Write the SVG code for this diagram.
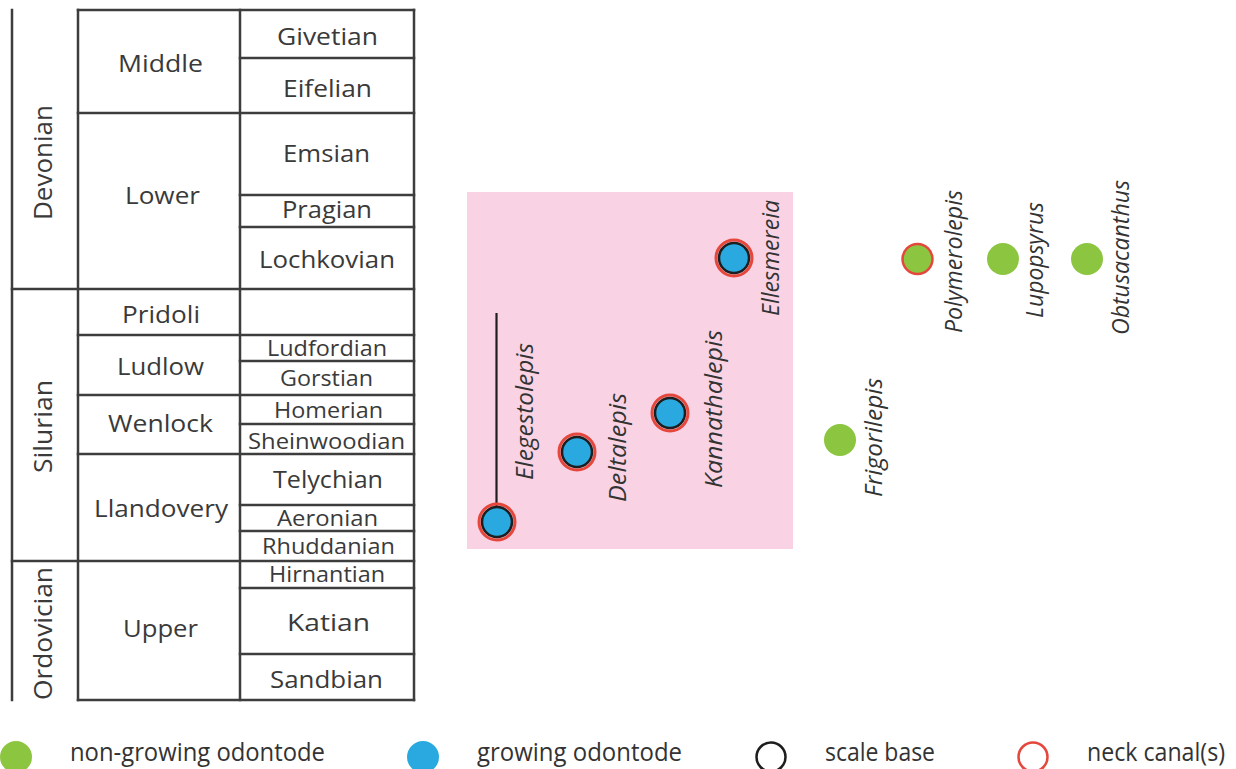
<svg xmlns="http://www.w3.org/2000/svg" width="1236" height="769" viewBox="0 0 1236 769">
<style>
.grid line{stroke:#3d3d3d;stroke-width:2.5;stroke-linecap:square}
.t{font-family:"Open Sans","Noto Sans","Liberation Sans",sans-serif;font-size:24px;fill:#3a3a3a;text-anchor:middle}
.s{font-size:21px}
.p{font-family:"Open Sans","Noto Sans","Liberation Sans",sans-serif;font-size:26px;fill:#3a3a3a}
.sp{font-family:"Open Sans","Noto Sans","Liberation Sans",sans-serif;font-style:italic;font-size:24px;fill:#333}
.lg{font-family:"Open Sans","Noto Sans","Liberation Sans",sans-serif;font-size:25px;fill:#333}
.grow{fill:#29a9e0;stroke:#1e1e1e;stroke-width:2.5}
.neck{fill:none;stroke:#e5473c;stroke-width:3}
.ng{fill:#8cc540}
</style>
<rect width="1236" height="769" fill="#ffffff"/>

<!-- time scale table -->
<g id="timescale">
<g class="grid">
<line x1="12" y1="10" x2="12" y2="700"/>
<line x1="78" y1="10" x2="78" y2="700"/>
<line x1="240" y1="10" x2="240" y2="700"/>
<line x1="414" y1="10" x2="414" y2="700"/>
<line x1="78" y1="10" x2="414" y2="10"/>
<line x1="240" y1="58" x2="414" y2="58"/>
<line x1="78" y1="113" x2="414" y2="113"/>
<line x1="240" y1="195" x2="414" y2="195"/>
<line x1="240" y1="227" x2="414" y2="227"/>
<line x1="12" y1="289" x2="414" y2="289"/>
<line x1="78" y1="335" x2="414" y2="335"/>
<line x1="240" y1="361" x2="414" y2="361"/>
<line x1="78" y1="395" x2="414" y2="395"/>
<line x1="240" y1="424" x2="414" y2="424"/>
<line x1="78" y1="454" x2="414" y2="454"/>
<line x1="240" y1="505" x2="414" y2="505"/>
<line x1="240" y1="531" x2="414" y2="531"/>
<line x1="12" y1="561" x2="414" y2="561"/>
<line x1="240" y1="588" x2="414" y2="588"/>
<line x1="240" y1="654" x2="414" y2="654"/>
<line x1="78" y1="700" x2="414" y2="700"/>
</g>
<text class="p" transform="translate(52,220) rotate(-90)" textLength="115" lengthAdjust="spacingAndGlyphs">Devonian</text>
<text class="p" transform="translate(52,473) rotate(-90)" textLength="93" lengthAdjust="spacingAndGlyphs">Silurian</text>
<text class="p" transform="translate(52,700) rotate(-90)" textLength="133" lengthAdjust="spacingAndGlyphs">Ordovician</text>

<text class="t" x="160.5" y="72" textLength="85" lengthAdjust="spacingAndGlyphs">Middle</text>
<text class="t" x="162.5" y="204" textLength="75" lengthAdjust="spacingAndGlyphs">Lower</text>
<text class="t" x="161" y="323" textLength="78" lengthAdjust="spacingAndGlyphs">Pridoli</text>
<text class="t" x="160.5" y="375" textLength="87" lengthAdjust="spacingAndGlyphs">Ludlow</text>
<text class="t" x="160.5" y="432" textLength="105" lengthAdjust="spacingAndGlyphs">Wenlock</text>
<text class="t" x="161" y="517" textLength="134" lengthAdjust="spacingAndGlyphs">Llandovery</text>
<text class="t" x="160.5" y="637" textLength="75" lengthAdjust="spacingAndGlyphs">Upper</text>

<text class="t" x="327.5" y="45" textLength="101" lengthAdjust="spacingAndGlyphs">Givetian</text>
<text class="t" x="327.5" y="97" textLength="89" lengthAdjust="spacingAndGlyphs">Eifelian</text>
<text class="t" x="326.5" y="162" textLength="87" lengthAdjust="spacingAndGlyphs">Emsian</text>
<text class="t" x="327" y="218" textLength="90" lengthAdjust="spacingAndGlyphs">Pragian</text>
<text class="t" x="327" y="268" textLength="136" lengthAdjust="spacingAndGlyphs">Lochkovian</text>
<text class="t s" x="327" y="356" textLength="120" lengthAdjust="spacingAndGlyphs">Ludfordian</text>
<text class="t s" x="326.5" y="386" textLength="93" lengthAdjust="spacingAndGlyphs">Gorstian</text>
<text class="t s" x="328.5" y="418" textLength="109" lengthAdjust="spacingAndGlyphs">Homerian</text>
<text class="t s" x="326.5" y="449" textLength="157" lengthAdjust="spacingAndGlyphs">Sheinwoodian</text>
<text class="t" x="328" y="488" textLength="110" lengthAdjust="spacingAndGlyphs">Telychian</text>
<text class="t s" x="327.5" y="526" textLength="101" lengthAdjust="spacingAndGlyphs">Aeronian</text>
<text class="t s" x="328.5" y="554" textLength="133" lengthAdjust="spacingAndGlyphs">Rhuddanian</text>
<text class="t s" x="327" y="582" textLength="116" lengthAdjust="spacingAndGlyphs">Hirnantian</text>
<text class="t" x="328.5" y="631" textLength="83" lengthAdjust="spacingAndGlyphs">Katian</text>
<text class="t" x="326.5" y="688" textLength="113" lengthAdjust="spacingAndGlyphs">Sandbian</text>
</g>

<!-- highlighted region -->
<rect id="highlight" x="467" y="192" width="326" height="357" fill="#f9d3e4"/>

<!-- connectors -->
<g id="connectors">
<line x1="496.5" y1="313" x2="496.5" y2="506" stroke="#1e1e1e" stroke-width="2.2"/>
</g>

<g id="elegestolepis">
<circle cx="497" cy="522" r="18" class="neck"/>
<circle cx="497" cy="522" r="15" class="grow"/>
<text class="sp" transform="translate(533,480) rotate(-90)" textLength="137" lengthAdjust="spacingAndGlyphs">Elegestolepis</text>
</g>
<g id="deltalepis">
<circle cx="577" cy="452" r="18" class="neck"/>
<circle cx="577" cy="452" r="15" class="grow"/>
<text class="sp" transform="translate(626,502) rotate(-90)" textLength="109" lengthAdjust="spacingAndGlyphs">Deltalepis</text>
</g>
<g id="kannathalepis">
<circle cx="670" cy="413" r="18" class="neck"/>
<circle cx="670" cy="413" r="15" class="grow"/>
<text class="sp" transform="translate(722,488) rotate(-90)" textLength="158" lengthAdjust="spacingAndGlyphs">Kannathalepis</text>
</g>
<g id="ellesmereia">
<circle cx="734" cy="258" r="18" class="neck"/>
<circle cx="734" cy="258" r="15" class="grow"/>
<text class="sp" transform="translate(779,316) rotate(-90)" textLength="116" lengthAdjust="spacingAndGlyphs">Ellesmereia</text>
</g>
<g id="frigorilepis">
<circle cx="840" cy="440" r="16" class="ng"/>
<text class="sp" transform="translate(882,497) rotate(-90)" textLength="119" lengthAdjust="spacingAndGlyphs">Frigorilepis</text>
</g>
<g id="polymerolepis">
<circle cx="917.5" cy="259" r="15" class="ng" stroke="#e5473c" stroke-width="2.5"/>
<text class="sp" transform="translate(962,333) rotate(-90)" textLength="143" lengthAdjust="spacingAndGlyphs">Polymerolepis</text>
</g>
<g id="lupopsyrus">
<circle cx="1003" cy="259" r="16" class="ng"/>
<text class="sp" transform="translate(1043,318) rotate(-90)" textLength="116" lengthAdjust="spacingAndGlyphs">Lupopsyrus</text>
</g>
<g id="obtusacanthus">
<circle cx="1087" cy="259" r="16" class="ng"/>
<text class="sp" transform="translate(1129,335) rotate(-90)" textLength="155" lengthAdjust="spacingAndGlyphs">Obtusacanthus</text>
</g>

<!-- legend -->
<g id="legend">
<circle cx="16" cy="757" r="16" class="ng"/>
<text class="lg" x="70" y="761" textLength="255" lengthAdjust="spacingAndGlyphs">non-growing odontode</text>
<circle cx="423" cy="757" r="16" fill="#29a9e0"/>
<text class="lg" x="477" y="761" textLength="205" lengthAdjust="spacingAndGlyphs">growing odontode</text>
<circle cx="771" cy="757" r="14.5" fill="none" stroke="#1e1e1e" stroke-width="2.5"/>
<text class="lg" x="825" y="761" textLength="110" lengthAdjust="spacingAndGlyphs">scale base</text>
<circle cx="1033" cy="757" r="14.5" fill="none" stroke="#e5473c" stroke-width="2.5"/>
<text class="lg" x="1087" y="761" textLength="138" lengthAdjust="spacingAndGlyphs">neck canal(s)</text>
</g>
</svg>
